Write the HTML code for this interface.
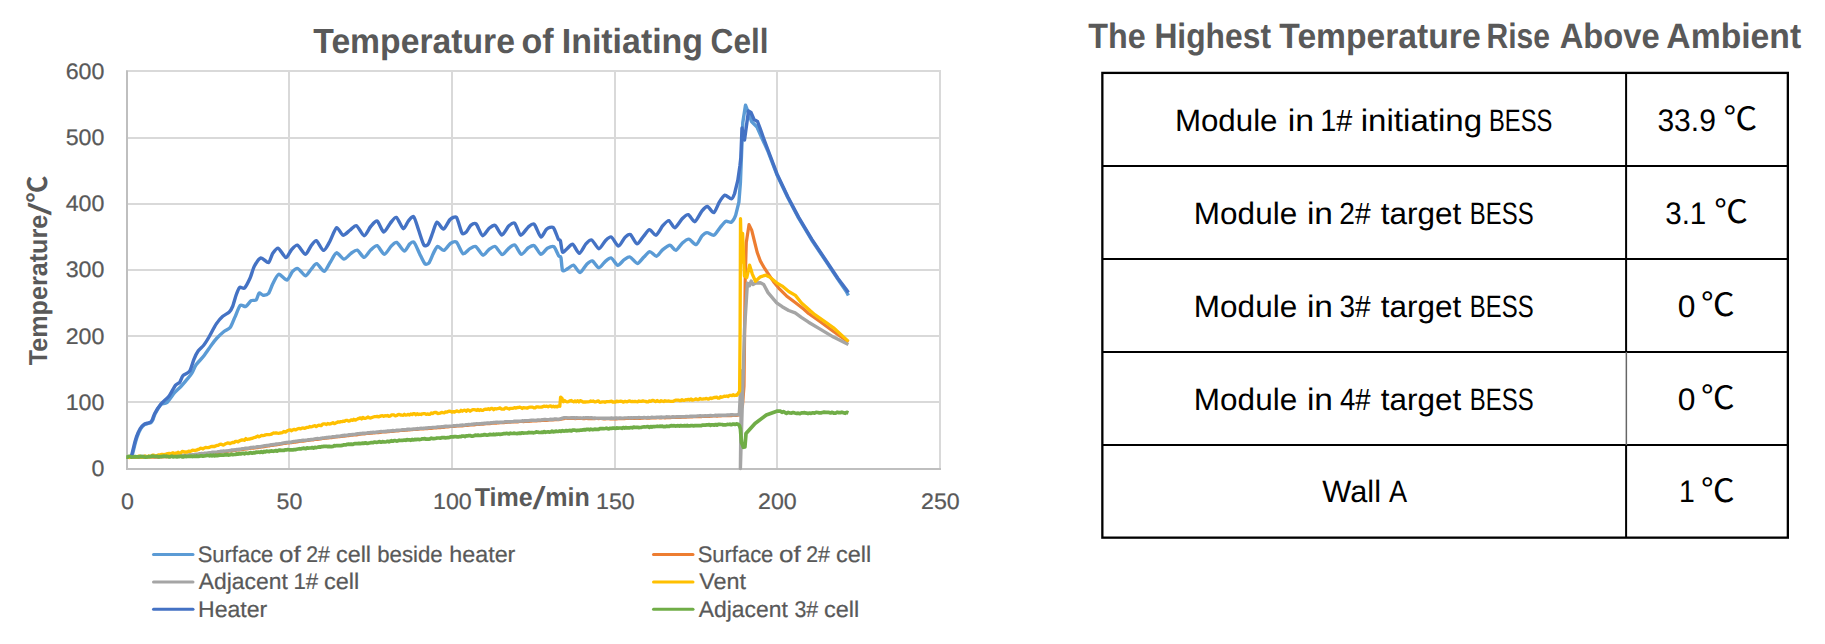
<!DOCTYPE html>
<html lang="en"><head><meta charset="utf-8"><title>Temperature of Initiating Cell</title>
<style>html,body{margin:0;padding:0;background:#fff;}body{width:1825px;height:644px;overflow:hidden;}svg{display:block;}text{font-family:"Liberation Sans","Noto Sans CJK SC",sans-serif;white-space:pre;text-rendering:geometricPrecision;}.c{fill:#595959;}.r{stroke:#595959;stroke-width:.22px;}.b{font-weight:bold;}.k{fill:#000;}</style></head><body>
<svg width="1825" height="644" viewBox="0 0 1825 644">
<rect width="1825" height="644" fill="#fff"/>
<g fill="#d9d9d9">
<rect x="126" y="70" width="815" height="2"/>
<rect x="126" y="137" width="815" height="2"/>
<rect x="126" y="203" width="815" height="2"/>
<rect x="126" y="269" width="815" height="2"/>
<rect x="126" y="335" width="815" height="2"/>
<rect x="126" y="401" width="815" height="2"/>
<rect x="288" y="70" width="2" height="399"/>
<rect x="451" y="70" width="2" height="399"/>
<rect x="614" y="70" width="2" height="399"/>
<rect x="776" y="70" width="2" height="399"/>
<rect x="939" y="70" width="2" height="399"/>
</g>
<g fill="#bfbfbf"><rect x="126" y="70.5" width="2" height="399.5"/><rect x="126" y="468" width="815" height="2"/></g>
<g>
<path d="M131.3,457.0C131.4,456.7 132.1,455.6 132.5,454.2C132.9,452.8 134.1,447.7 134.6,445.6C135.1,443.5 136.3,439.1 137.0,437.1C137.7,435.1 139.9,430.2 140.8,428.7C141.7,427.2 143.7,425.2 144.6,424.6C145.5,424.0 147.2,423.8 148.0,423.5C148.8,423.2 150.4,422.9 151.0,422.5C151.6,422.1 152.4,420.8 152.9,419.8C153.4,418.8 154.0,415.9 155.0,414.0C156.0,412.1 159.9,405.5 161.3,404.2C162.7,402.9 165.1,404.1 166.7,402.8C168.3,401.5 172.6,395.0 174.3,393.0C176.0,391.0 179.3,388.2 180.9,386.5C182.5,384.8 186.1,380.5 187.4,378.9C188.7,377.3 190.7,375.2 191.7,373.5C192.7,371.8 194.7,366.9 196.1,364.8C197.5,362.7 201.9,358.5 203.7,356.1C205.5,353.7 209.7,347.4 211.3,345.2C212.9,343.0 215.5,339.6 217.0,338.0C218.5,336.4 222.4,332.8 224.0,331.5C225.6,330.2 229.1,328.9 230.4,327.2C231.7,325.5 233.6,320.0 234.8,317.4C236.0,314.8 238.9,306.7 240.2,305.4C241.5,304.1 244.4,307.1 245.7,306.5C247.0,305.9 249.9,301.5 251.1,300.7C252.3,299.9 255.1,300.9 256.1,300.0C257.1,299.1 258.3,293.6 259.1,293.0C259.9,292.4 261.9,295.1 263.0,295.2C264.1,295.3 267.3,294.9 268.5,293.5C269.7,292.1 271.6,286.0 272.8,283.7C274.0,281.4 277.0,274.7 278.7,274.3C280.4,273.9 285.4,280.3 287.0,280.0C288.6,279.7 291.1,273.1 292.4,271.7C293.7,270.3 296.2,268.0 297.8,268.5C299.4,269.0 303.8,275.6 305.4,275.7C307.0,275.8 309.9,270.5 311.3,269.1C312.7,267.7 315.1,263.4 316.7,263.7C318.3,264.0 322.7,271.5 324.3,271.3C325.9,271.1 328.9,264.2 330.4,262.0C331.9,259.8 334.9,253.1 336.5,252.8C338.1,252.5 342.1,259.0 343.9,259.1C345.7,259.2 349.5,254.4 351.1,253.3C352.7,252.2 355.7,249.7 357.3,250.2C358.9,250.7 362.5,257.4 364.1,257.4C365.7,257.4 369.1,251.4 370.7,250.0C372.3,248.6 375.6,245.2 377.2,245.7C378.8,246.2 382.6,254.3 384.3,254.3C386.0,254.3 389.8,247.5 391.3,246.1C392.8,244.7 395.1,241.8 396.7,242.4C398.3,243.0 402.7,250.9 404.3,251.1C405.9,251.3 408.6,244.9 409.8,243.9C411.0,242.9 412.9,241.2 414.1,242.4C415.3,243.6 418.3,251.1 419.6,253.7C420.9,256.3 423.8,262.9 425.0,263.9C426.2,264.9 428.3,263.8 429.3,262.4C430.3,261.0 432.7,254.5 433.7,252.6C434.7,250.7 436.4,246.8 437.6,246.5C438.8,246.2 442.4,250.8 443.9,250.4C445.4,250.0 448.9,244.5 450.4,243.5C451.9,242.5 455.0,241.0 456.5,242.2C458.0,243.4 461.4,252.9 463.0,253.7C464.6,254.5 468.1,249.8 469.6,248.9C471.1,248.0 474.1,245.7 475.7,246.5C477.3,247.3 481.4,254.9 483.0,255.2C484.6,255.5 487.6,250.3 489.1,249.3C490.6,248.3 493.6,245.9 495.2,246.5C496.8,247.1 500.6,254.4 502.2,254.6C503.8,254.8 507.2,249.5 508.7,248.3C510.2,247.1 513.3,244.3 514.8,245.0C516.3,245.7 519.7,254.0 521.3,254.3C522.9,254.6 526.7,248.8 528.3,247.8C529.9,246.8 532.8,244.9 534.3,245.7C535.8,246.5 539.3,254.0 540.9,254.3C542.5,254.6 545.8,249.2 547.4,248.3C549.0,247.4 552.5,245.8 553.9,246.7C555.3,247.6 557.9,254.6 558.7,255.9C559.5,257.2 560.4,255.7 560.9,257.4C561.4,259.1 561.8,269.0 562.6,270.4C563.4,271.8 566.1,269.5 567.4,268.9C568.7,268.3 572.0,264.8 573.5,265.2C575.0,265.6 578.4,272.8 580.0,272.6C581.6,272.4 585.5,265.3 587.0,263.9C588.5,262.5 591.0,260.4 592.4,260.9C593.8,261.4 597.3,267.8 598.9,267.8C600.5,267.8 603.9,262.5 605.4,261.3C606.9,260.1 609.8,257.5 611.3,258.0C612.8,258.5 616.2,265.0 617.8,265.2C619.4,265.4 622.8,260.6 624.3,259.6C625.8,258.6 628.4,256.5 630.0,257.0C631.6,257.5 635.7,263.5 637.4,263.5C639.1,263.5 642.4,258.4 643.9,257.0C645.4,255.6 648.3,251.7 649.8,251.6C651.3,251.5 654.8,256.4 656.4,256.2C658.0,256.0 661.2,250.9 662.8,249.6C664.4,248.3 668.4,245.1 670.0,245.2C671.6,245.3 674.4,250.7 675.9,250.4C677.4,250.1 680.8,244.4 682.4,243.0C684.0,241.6 687.3,238.9 688.9,239.1C690.5,239.3 694.5,245.0 696.1,244.6C697.7,244.2 700.7,237.3 702.0,235.9C703.3,234.5 705.6,232.7 707.0,232.6C708.4,232.5 712.3,235.8 713.9,235.2C715.5,234.6 719.0,228.9 720.4,227.2C721.8,225.5 724.6,221.9 725.9,221.3C727.2,220.7 730.1,222.9 731.3,222.2C732.5,221.5 734.8,217.6 735.7,215.2L738.9,202.2L740.4,182.6L741.3,160.0L742.8,122.6L745.5,105.2L747.2,109.6L751.5,121.5L757.0,127.0L761.3,136.7L767.6,150.5L776.8,174.5L787.6,197.3L798.5,218.0L811.5,239.7L826.8,262.6L837.6,278.9L846.3,291.5L848.4,295.5" fill="none" stroke="#5b9bd5" stroke-width="3.4" stroke-linejoin="round"/>
<polyline points="127.6,457.4 128.9,457.5 130.2,457.5 131.5,457.5 132.8,457.4 134.1,457.4 135.4,457.2 136.7,457.3 138.0,457.4 139.3,457.3 140.6,457.4 141.9,457.1 143.2,457.2 144.4,457.1 145.7,457.2 147.0,457.2 148.3,457.0 149.6,457.0 150.9,457.0 152.2,457.2 153.5,457.2 154.8,457.0 156.1,457.1 157.4,456.9 158.7,457.1 160.0,456.9 161.3,456.8 162.6,457.0 163.9,456.7 165.2,456.7 166.5,456.8 167.8,456.7 169.1,456.5 170.4,456.7 171.7,456.5 173.0,456.4 174.3,456.2 175.7,456.4 177.0,456.3 178.3,456.3 179.6,456.2 180.9,456.0 182.2,455.9 183.5,455.8 184.8,455.7 186.1,455.7 187.4,455.7 188.7,455.7 190.0,455.5 191.3,455.5 192.6,455.3 193.9,455.1 195.2,455.1 196.5,454.9 197.8,454.7 199.1,454.6 200.4,454.5 201.7,454.1 203.0,454.3 204.3,453.8 205.6,453.9 206.9,453.8 208.1,453.4 209.4,453.5 210.7,453.2 212.0,453.1 213.3,452.8 214.6,452.6 215.9,452.5 217.2,452.6 218.5,452.2 219.8,452.3 221.1,452.2 222.4,452.0 223.7,451.7 225.0,451.6 226.3,451.4 227.6,451.4 228.9,451.0 230.2,451.0 231.5,450.9 232.8,450.7 234.1,450.3 235.4,450.4 236.7,450.0 238.0,449.9 239.3,449.8 240.6,449.8 241.9,449.4 243.1,449.4 244.4,449.2 245.7,448.9 247.0,448.8 248.3,448.6 249.6,448.4 250.9,448.2 252.2,448.2 253.5,448.2 254.8,447.8 256.1,447.6 257.4,447.7 258.7,447.4 260.0,447.2 261.3,446.9 262.6,446.8 264.0,446.7 265.3,446.4 266.6,446.2 267.9,445.9 269.2,445.9 270.5,445.5 271.9,445.4 273.2,445.3 274.5,444.9 275.8,444.9 277.1,444.7 278.5,444.4 279.8,444.3 281.1,443.9 282.4,443.8 283.7,443.5 285.0,443.5 286.4,443.1 287.7,443.0 289.0,442.9 290.3,442.7 291.6,442.6 292.9,442.3 294.2,442.1 295.5,442.1 296.8,441.8 298.1,441.6 299.4,441.5 300.6,441.2 301.9,441.1 303.2,441.2 304.5,441.0 305.8,440.7 307.1,440.5 308.4,440.3 309.7,440.1 311.0,440.0 312.3,440.0 313.6,439.8 314.9,439.5 316.2,439.5 317.5,439.3 318.8,439.1 320.0,438.9 321.3,438.8 322.6,438.5 323.9,438.5 325.2,438.2 326.5,438.1 327.8,438.0 329.1,437.8 330.4,437.5 331.7,437.6 333.0,437.3 334.3,437.2 335.6,436.9 336.9,436.9 338.2,436.6 339.5,436.6 340.8,436.4 342.1,436.4 343.4,436.2 344.7,436.1 346.0,435.8 347.3,435.7 348.6,435.6 349.9,435.5 351.2,435.2 352.5,435.2 353.8,435.0 355.1,434.8 356.4,434.8 357.7,434.6 359.0,434.3 360.3,434.2 361.6,433.9 362.9,434.0 364.2,433.9 365.5,433.6 366.8,433.5 368.1,433.4 369.4,433.3 370.7,433.1 372.0,433.1 373.3,433.0 374.6,432.9 375.9,432.7 377.2,432.6 378.5,432.6 379.8,432.4 381.1,432.3 382.4,432.0 383.7,431.9 385.0,431.9 386.3,431.9 387.6,431.6 388.9,431.7 390.2,431.5 391.5,431.2 392.8,431.3 394.1,431.1 395.4,430.9 396.7,430.8 398.0,430.8 399.3,430.6 400.6,430.5 401.9,430.4 403.2,430.4 404.4,430.3 405.7,430.2 407.0,430.1 408.3,429.9 409.5,430.0 410.8,429.7 412.1,429.7 413.4,429.5 414.7,429.5 415.9,429.3 417.2,429.4 418.5,429.2 419.8,429.0 421.1,429.0 422.3,428.8 423.6,428.8 424.9,428.7 426.2,428.6 427.4,428.6 428.7,428.5 430.0,428.3 431.3,428.3 432.6,428.1 433.9,427.9 435.2,427.8 436.4,427.8 437.7,427.7 439.0,427.7 440.3,427.6 441.6,427.4 442.9,427.2 444.2,427.3 445.5,426.9 446.7,426.8 448.0,426.8 449.3,426.7 450.6,426.5 451.9,426.5 453.2,426.5 454.5,426.3 455.8,426.2 457.1,426.0 458.4,425.9 459.7,426.0 461.0,425.7 462.3,425.8 463.6,425.7 464.9,425.5 466.2,425.3 467.5,425.4 468.8,425.2 470.1,425.0 471.4,424.9 472.7,425.0 474.0,424.8 475.3,424.6 476.7,424.5 478.0,424.3 479.3,424.4 480.6,424.2 481.9,424.1 483.2,424.1 484.5,424.0 485.8,423.7 487.1,423.7 488.4,423.6 489.7,423.7 491.0,423.5 492.3,423.2 493.6,423.1 494.9,423.0 496.2,423.2 497.5,422.8 498.8,422.8 500.1,422.7 501.4,422.7 502.7,422.6 504.0,422.6 505.3,422.3 506.6,422.4 507.9,422.2 509.2,422.2 510.5,422.1 511.8,422.0 513.1,422.0 514.4,421.9 515.7,421.8 517.0,421.9 518.3,421.8 519.6,421.5 520.9,421.5 522.2,421.5 523.5,421.6 524.8,421.5 526.1,421.3 527.4,421.1 528.7,421.3 530.0,421.1 531.2,421.1 532.5,421.0 533.8,420.9 535.1,420.8 536.4,420.9 537.7,420.6 539.0,420.6 540.3,420.6 541.6,420.4 542.9,420.3 544.2,420.4 545.5,420.1 546.8,420.3 548.1,420.2 549.4,420.0 550.7,419.9 552.0,420.0 553.3,420.0 554.6,419.7 555.9,419.7 557.2,419.7 558.5,419.6 559.8,419.4 561.1,419.1 562.4,418.9 563.7,418.7 565.0,418.2 566.3,418.2 567.6,418.4 568.9,418.4 570.2,418.4 571.5,418.2 572.8,418.4 574.0,418.5 575.3,418.6 576.6,418.5 577.9,418.3 579.2,418.5 580.5,418.4 581.8,418.5 583.1,418.6 584.4,418.6 585.7,418.4 587.0,418.5 588.3,418.7 589.5,418.4 590.8,418.6 592.1,418.6 593.4,418.5 594.7,418.6 596.0,418.5 597.3,418.5 598.6,418.6 599.9,418.5 601.2,418.5 602.5,418.7 603.8,418.8 605.1,418.8 606.3,418.6 607.6,418.7 608.9,418.7 610.2,418.8 611.5,418.8 612.8,418.9 614.1,418.8 615.4,418.6 616.7,418.8 618.0,418.6 619.3,418.7 620.6,418.7 621.9,418.7 623.2,418.6 624.6,418.6 625.9,418.5 627.2,418.5 628.5,418.4 629.8,418.5 631.1,418.4 632.4,418.3 633.7,418.3 635.0,418.3 636.3,418.4 637.6,418.2 638.9,418.3 640.2,418.3 641.5,418.1 642.8,418.2 644.1,418.0 645.5,418.0 646.8,418.1 648.1,417.9 649.4,418.1 650.7,418.0 652.0,417.9 653.3,418.0 654.6,417.7 655.9,417.9 657.2,417.7 658.5,417.7 659.8,417.9 661.1,417.8 662.4,417.6 663.7,417.6 665.0,417.8 666.4,417.7 667.7,417.7 669.0,417.4 670.3,417.6 671.6,417.4 672.9,417.4 674.2,417.4 675.5,417.4 676.8,417.3 678.1,417.3 679.4,417.2 680.7,417.3 682.0,417.2 683.3,417.2 684.6,417.1 685.9,417.2 687.2,417.0 688.5,417.0 689.8,416.9 691.0,416.9 692.3,416.8 693.6,416.7 694.9,416.6 696.2,416.6 697.5,416.5 698.8,416.7 700.1,416.6 701.4,416.6 702.7,416.3 704.0,416.4 705.3,416.5 706.6,416.4 707.9,416.3 709.2,416.3 710.5,416.1 711.8,416.1 713.1,416.0 714.4,416.0 715.7,416.0 717.0,416.1 718.3,415.9 719.6,415.8 720.9,415.8 722.2,415.7 723.4,415.7 724.7,415.7 726.0,415.7 727.3,415.5 728.6,415.7 729.9,415.5 731.2,415.7 732.5,415.5 733.8,415.5 735.1,415.4 736.4,415.5 737.7,415.2 739.3,415.0 742.5,405.0 744.0,386.0 745.2,280.0 746.3,242.6 749.0,224.7 751.7,230.1 754.5,241.5 757.2,252.4 760.4,261.1 764.8,268.7 769.1,275.2 773.5,281.7 778.9,288.3 786.5,295.9 795.2,302.6 803.9,309.2 808.6,313.5 821.0,322.2 833.5,331.5 848.4,342.0" fill="none" stroke="#ed7d31" stroke-width="3.2" stroke-linejoin="round"/>
<polyline points="127.6,456.7 128.9,456.6 130.2,456.7 131.5,456.6 132.8,456.6 134.1,456.7 135.4,456.9 136.7,456.8 138.0,456.8 139.3,456.5 140.6,456.7 141.9,456.5 143.2,456.5 144.4,456.4 145.7,456.5 147.0,456.7 148.3,456.7 149.6,456.7 150.9,456.6 152.2,456.4 153.5,456.4 154.8,456.5 156.1,456.5 157.4,456.6 158.7,456.6 160.0,456.2 161.3,456.4 162.6,456.3 163.9,456.2 165.2,456.0 166.5,456.1 167.8,455.9 169.1,456.1 170.4,456.1 171.7,455.9 173.0,455.7 174.3,455.9 175.7,455.7 177.0,455.8 178.3,455.7 179.6,455.5 180.9,455.4 182.2,455.4 183.5,455.3 184.8,455.1 186.1,455.1 187.4,455.2 188.7,454.9 190.0,454.8 191.3,454.9 192.6,454.6 193.9,454.6 195.2,454.4 196.5,454.2 197.8,454.3 199.1,453.8 200.4,453.8 201.7,453.5 203.0,453.6 204.3,453.3 205.6,453.2 206.9,453.2 208.1,452.9 209.4,452.8 210.7,452.8 212.0,452.3 213.3,452.2 214.6,452.1 215.9,452.1 217.2,451.9 218.5,451.6 219.8,451.5 221.1,451.3 222.4,451.3 223.7,451.0 225.0,451.1 226.3,451.0 227.6,450.9 228.9,450.6 230.2,450.5 231.5,450.0 232.8,449.9 234.1,450.0 235.4,449.8 236.7,449.5 238.0,449.5 239.3,449.3 240.6,449.2 241.9,448.8 243.1,448.6 244.4,448.5 245.7,448.2 247.0,448.2 248.3,448.3 249.6,447.8 250.9,447.5 252.2,447.4 253.5,447.3 254.8,447.4 256.1,447.0 257.4,446.8 258.7,446.6 260.0,446.8 261.3,446.4 262.6,446.1 264.0,445.8 265.3,445.6 266.6,445.5 267.9,445.5 269.2,445.1 270.5,444.8 271.9,444.8 273.2,444.5 274.5,444.6 275.8,444.0 277.1,444.0 278.5,443.9 279.8,443.6 281.1,443.6 282.4,443.2 283.7,442.9 285.0,442.8 286.4,442.4 287.7,442.4 289.0,442.1 290.3,442.2 291.6,442.0 292.9,441.7 294.2,441.4 295.5,441.3 296.8,441.1 298.1,440.9 299.4,440.8 300.6,440.9 301.9,440.4 303.2,440.2 304.5,440.4 305.8,440.1 307.1,440.1 308.4,439.7 309.7,439.8 311.0,439.5 312.3,439.4 313.6,439.2 314.9,438.9 316.2,438.6 317.5,438.5 318.8,438.6 320.0,438.5 321.3,438.3 322.6,437.9 323.9,437.9 325.2,437.8 326.5,437.5 327.8,437.5 329.1,437.2 330.4,437.1 331.7,436.9 333.0,436.6 334.3,436.7 335.6,436.6 336.9,436.1 338.2,436.3 339.5,436.1 340.8,435.9 342.1,435.5 343.4,435.7 344.7,435.2 346.0,435.4 347.3,435.1 348.6,434.8 349.9,434.6 351.2,434.7 352.5,434.5 353.8,434.4 355.1,434.4 356.4,433.9 357.7,433.7 359.0,433.9 360.3,433.4 361.6,433.6 362.9,433.1 364.2,433.3 365.5,433.1 366.8,433.0 368.1,432.8 369.4,432.8 370.7,432.4 372.0,432.5 373.3,432.3 374.6,432.4 375.9,432.2 377.2,432.0 378.5,431.9 379.8,431.6 381.1,431.5 382.4,431.6 383.7,431.4 385.0,431.5 386.3,431.3 387.6,431.0 388.9,430.9 390.2,431.0 391.5,430.8 392.8,430.5 394.1,430.7 395.4,430.6 396.7,430.2 398.0,430.2 399.3,430.1 400.6,430.1 401.9,429.8 403.2,429.7 404.4,429.7 405.7,429.8 407.0,429.3 408.3,429.2 409.5,429.3 410.8,429.4 412.1,429.1 413.4,429.0 414.7,429.0 415.9,428.9 417.2,428.5 418.5,428.8 419.8,428.4 421.1,428.3 422.3,428.4 423.6,428.2 424.9,428.2 426.2,427.9 427.4,428.0 428.7,427.7 430.0,427.6 431.3,427.6 432.6,427.4 433.9,427.4 435.2,427.4 436.4,427.3 437.7,426.9 439.0,426.9 440.3,426.9 441.6,426.7 442.9,426.7 444.2,426.5 445.5,426.3 446.7,426.2 448.0,426.4 449.3,426.1 450.6,426.1 451.9,426.1 453.2,425.8 454.5,425.8 455.8,425.6 457.1,425.4 458.4,425.6 459.7,425.3 461.0,425.3 462.3,425.0 463.6,425.1 464.9,425.0 466.2,424.8 467.5,424.6 468.8,424.4 470.1,424.6 471.4,424.3 472.7,424.3 474.0,424.0 475.3,423.9 476.7,423.8 478.0,424.0 479.3,423.6 480.6,423.8 481.9,423.5 483.2,423.5 484.5,423.3 485.8,423.3 487.1,423.0 488.4,423.0 489.7,423.1 491.0,422.7 492.3,422.8 493.6,422.5 494.9,422.4 496.2,422.2 497.5,422.1 498.8,422.4 500.1,422.2 501.4,422.2 502.7,422.1 504.0,422.1 505.3,421.7 506.6,421.8 507.9,421.7 509.2,421.6 510.5,421.7 511.8,421.6 513.1,421.6 514.4,421.2 515.7,421.3 517.0,421.3 518.3,421.2 519.6,421.1 520.9,421.1 522.2,420.8 523.5,421.0 524.8,420.7 526.1,420.7 527.4,420.8 528.7,420.7 530.0,420.4 531.2,420.3 532.5,420.3 533.8,420.3 535.1,420.4 536.4,420.3 537.7,420.0 539.0,420.0 540.3,420.1 541.6,419.8 542.9,419.8 544.2,419.5 545.5,419.5 546.8,419.6 548.1,419.6 549.4,419.5 550.7,419.3 552.0,419.5 553.3,419.3 554.6,419.0 555.9,418.9 557.2,419.2 558.5,419.2 559.8,419.1 561.1,418.6 562.4,418.2 563.7,417.8 565.0,417.6 566.3,417.6 567.6,417.9 568.9,417.9 570.2,417.9 571.5,417.6 572.8,417.7 574.0,417.7 575.3,418.0 576.6,417.7 577.9,417.9 579.2,417.9 580.5,417.9 581.8,418.1 583.1,417.8 584.4,417.9 585.7,417.8 587.0,417.8 588.3,417.7 589.5,417.9 590.8,417.8 592.1,417.8 593.4,418.2 594.7,417.9 596.0,418.2 597.3,418.1 598.6,418.1 599.9,418.1 601.2,418.2 602.5,418.2 603.8,418.2 605.1,418.1 606.3,418.2 607.6,418.2 608.9,418.2 610.2,418.2 611.5,418.0 612.8,418.3 614.1,418.2 615.4,418.0 616.7,418.0 618.0,418.3 619.3,418.0 620.6,418.0 621.9,418.1 623.2,418.1 624.6,417.9 625.9,417.9 627.2,417.9 628.5,417.7 629.8,418.0 631.1,417.6 632.4,418.0 633.7,417.6 635.0,417.6 636.3,417.8 637.6,417.8 638.9,417.5 640.2,417.6 641.5,417.6 642.8,417.6 644.1,417.4 645.5,417.6 646.8,417.7 648.1,417.5 649.4,417.6 650.7,417.5 652.0,417.3 653.3,417.4 654.6,417.4 655.9,417.3 657.2,417.1 658.5,417.2 659.8,417.3 661.1,417.0 662.4,417.2 663.7,417.2 665.0,417.1 666.4,416.8 667.7,417.0 669.0,416.9 670.3,417.1 671.6,417.0 672.9,416.8 674.2,417.0 675.5,416.9 676.8,416.7 678.1,416.8 679.4,416.8 680.7,416.8 682.0,416.7 683.3,416.6 684.6,416.6 685.9,416.5 687.2,416.4 688.5,416.6 689.8,416.3 691.0,416.1 692.3,416.3 693.6,416.2 694.9,416.2 696.2,416.1 697.5,416.0 698.8,415.9 700.1,415.8 701.4,416.0 702.7,416.0 704.0,415.9 705.3,415.6 706.6,415.9 707.9,415.8 709.2,415.7 710.5,415.4 711.8,415.7 713.1,415.6 714.4,415.5 715.7,415.3 717.0,415.5 718.3,415.2 719.6,415.3 720.9,415.1 722.2,415.2 723.4,415.3 724.7,415.2 726.0,415.2 727.3,415.0 728.6,415.0 729.9,415.0 731.2,414.7 732.5,414.8 733.8,415.0 735.1,414.9 736.4,414.9 737.7,414.6 739.3,414.4 741.5,371.0 740.4,468.5 744.5,330.0 747.4,283.2 749.5,285.6 751.2,281.0 753.0,284.5 755.5,283.0 760.4,282.8 763.7,284.5 768.0,292.6 776.7,302.9 782.2,306.7 788.7,310.5 795.2,312.9 801.7,317.6 808.6,322.2 821.0,329.6 833.5,337.1 848.4,344.5" fill="none" stroke="#a5a5a5" stroke-width="3.4" stroke-linejoin="round"/>
<polyline points="127.6,456.5 128.9,457.5 130.3,457.3 131.6,456.6 133.0,456.9 134.3,456.8 135.6,457.1 137.0,457.3 138.3,456.2 139.6,456.1 141.0,457.3 142.3,456.6 143.7,457.1 145.0,456.0 146.2,456.5 147.5,456.8 148.8,455.9 150.0,456.9 151.2,456.7 152.5,455.2 153.8,455.1 155.0,455.8 156.2,456.2 157.5,455.3 158.8,454.9 160.0,455.1 161.3,454.3 162.6,454.4 163.9,454.6 165.2,454.5 166.5,453.9 167.8,453.7 169.1,453.5 170.4,453.7 171.7,453.2 173.0,452.7 174.3,453.7 175.7,453.1 177.0,453.0 178.3,452.2 179.6,453.2 180.9,452.8 182.2,451.5 183.5,451.7 184.8,452.1 186.1,451.9 187.4,452.0 188.7,451.1 190.0,451.5 191.3,451.0 192.6,450.2 193.9,450.4 195.2,450.5 196.5,450.2 197.8,449.5 199.1,449.3 200.4,448.2 201.7,448.3 203.0,448.9 204.3,448.0 205.6,447.4 206.9,447.7 208.1,447.7 209.4,447.4 210.7,446.7 212.0,446.5 213.3,446.3 214.6,446.5 215.9,445.8 217.2,445.4 218.5,445.3 219.8,444.3 221.1,444.1 222.4,444.8 223.7,445.0 225.0,444.1 226.3,443.5 227.6,442.9 228.9,443.1 230.2,443.6 231.5,442.9 232.8,442.3 234.2,442.5 235.5,441.3 236.8,441.4 238.1,441.8 239.4,440.9 240.7,440.4 242.0,439.9 243.3,440.0 244.6,440.3 245.9,438.6 247.2,439.5 248.5,439.2 249.8,439.0 251.1,438.5 252.5,438.3 253.8,437.6 255.1,437.4 256.4,436.9 257.7,436.0 259.0,436.9 260.3,436.2 261.6,435.4 262.9,435.6 264.2,435.4 265.5,434.9 266.8,434.7 268.1,434.7 269.4,434.6 270.7,434.4 272.0,433.9 273.3,433.0 274.6,433.1 276.0,432.8 277.3,433.2 278.6,433.3 279.9,433.0 281.2,432.8 282.5,432.6 283.8,431.5 285.1,432.1 286.4,431.6 287.7,430.5 289.0,430.2 290.3,429.9 291.6,430.8 292.9,429.8 294.2,429.4 295.5,429.9 296.8,429.3 298.1,428.6 299.4,428.5 300.6,428.9 301.9,428.1 303.2,428.0 304.5,428.4 305.8,427.8 307.1,427.4 308.4,427.4 309.7,426.5 311.0,426.8 312.3,426.6 313.6,426.0 314.9,425.7 316.2,426.6 317.5,425.8 318.8,425.1 320.0,425.5 321.3,425.6 322.6,424.2 323.9,423.9 325.2,423.9 326.5,424.5 327.8,423.5 329.1,424.0 330.4,423.8 331.7,423.4 333.0,422.7 334.3,423.6 335.6,423.1 336.9,422.5 338.2,421.8 339.5,422.2 340.8,421.6 342.1,421.7 343.4,421.1 344.7,421.3 346.0,420.3 347.3,420.4 348.6,421.2 349.9,420.8 351.2,419.8 352.5,420.4 353.8,419.3 355.1,420.1 356.4,419.6 357.7,418.9 359.0,418.4 360.3,417.8 361.6,418.9 362.9,417.4 364.2,418.4 365.5,418.4 366.8,417.7 368.1,417.0 369.4,417.9 370.7,418.0 372.0,417.5 373.3,417.0 374.6,416.7 375.9,416.6 377.2,416.3 378.5,416.9 379.8,416.4 381.1,415.9 382.4,415.7 383.7,416.4 385.0,415.7 386.3,415.9 387.6,415.5 388.9,416.3 390.2,416.2 391.5,414.8 392.8,414.9 394.1,415.0 395.4,415.9 396.7,415.5 398.0,414.7 399.3,414.4 400.6,415.0 401.9,415.2 403.2,415.3 404.4,414.3 405.7,415.1 407.0,414.8 408.3,414.4 409.5,415.1 410.8,414.0 412.1,414.6 413.4,413.6 414.7,413.7 415.9,414.8 417.2,413.7 418.5,414.5 419.8,414.2 421.1,414.5 422.3,413.8 423.6,413.7 424.9,413.6 426.2,414.4 427.4,413.9 428.7,414.4 430.0,414.3 431.3,413.0 432.6,413.5 433.9,412.7 435.2,412.5 436.4,412.4 437.7,413.5 439.0,413.3 440.3,413.2 441.6,412.3 442.9,412.6 444.2,412.8 445.5,412.0 446.7,412.2 448.0,411.6 449.3,411.2 450.6,411.4 451.9,412.2 453.2,411.6 454.5,412.1 455.8,411.3 457.1,410.9 458.4,411.6 459.7,411.6 461.0,410.3 462.3,411.2 463.6,410.3 464.9,410.2 466.2,411.3 467.5,409.9 468.8,410.2 470.1,411.2 471.4,410.3 472.7,409.7 474.0,409.7 475.3,409.8 476.7,410.4 478.0,409.4 479.3,410.5 480.6,409.6 481.9,410.4 483.2,410.3 484.5,409.3 485.8,409.1 487.1,409.4 488.4,408.7 489.7,409.5 491.0,408.5 492.3,408.4 493.6,409.7 494.9,408.6 496.2,409.0 497.5,408.7 498.8,408.4 500.1,407.9 501.4,409.2 502.7,409.2 504.0,409.2 505.3,407.8 506.6,407.9 507.9,408.5 509.2,409.0 510.5,408.3 511.8,408.4 513.1,408.3 514.4,407.7 515.7,408.1 517.0,407.7 518.3,407.5 519.6,407.2 520.9,407.5 522.2,408.5 523.5,407.6 524.8,407.9 526.1,407.8 527.4,408.2 528.7,407.3 530.0,407.2 531.2,407.1 532.5,407.1 533.8,407.8 535.1,407.8 536.4,406.9 537.7,406.9 539.0,407.2 540.3,407.2 541.6,407.1 542.9,406.6 544.2,406.2 545.5,406.5 546.8,406.2 548.1,406.8 549.4,406.1 550.7,406.0 552.0,406.8 553.3,406.2 554.6,406.9 555.9,406.4 557.2,406.9 558.5,405.8 559.8,406.3 560.6,397.1 562.0,398.2 563.3,401.7 564.6,400.5 565.9,401.5 567.2,401.8 568.5,401.6 569.8,400.8 571.1,400.5 572.4,401.2 573.7,401.8 575.0,400.9 576.3,401.8 577.6,400.7 578.9,401.9 580.2,400.6 581.5,401.0 582.8,402.0 584.1,401.8 585.4,402.0 586.7,401.9 588.0,401.8 589.4,401.7 590.7,401.0 592.0,401.4 593.3,401.0 594.6,401.9 595.9,401.8 597.2,401.2 598.5,401.0 599.8,402.3 601.1,402.1 602.4,401.8 603.7,401.8 605.0,402.3 606.3,401.7 607.6,401.6 608.9,401.6 610.2,401.5 611.5,401.1 612.8,402.1 614.1,401.8 615.4,402.0 616.7,401.2 618.0,401.6 619.3,401.3 620.6,401.2 621.9,401.4 623.2,402.2 624.6,401.5 625.9,401.5 627.2,401.8 628.5,401.2 629.8,400.9 631.1,401.6 632.4,401.5 633.7,401.7 635.0,401.4 636.3,401.7 637.6,401.8 638.9,401.0 640.2,401.4 641.5,401.3 642.8,400.9 644.1,401.2 645.5,401.4 646.8,401.9 648.1,401.9 649.4,400.9 650.7,401.4 652.0,400.5 653.3,400.5 654.6,401.1 655.9,401.6 657.2,400.5 658.5,401.4 659.8,401.6 661.1,400.7 662.4,401.2 663.7,401.5 665.0,400.7 666.4,401.2 667.7,401.2 669.0,401.0 670.3,401.3 671.6,401.4 672.9,401.4 674.2,400.8 675.5,400.2 676.8,400.2 678.1,400.1 679.4,400.5 680.7,400.7 681.9,399.6 683.2,400.4 684.5,400.4 685.8,399.7 687.1,399.9 688.4,399.3 689.7,400.0 691.0,398.9 692.2,400.2 693.5,399.8 694.8,399.5 696.1,398.8 697.4,399.7 698.7,399.7 700.0,398.4 701.3,399.2 702.6,399.2 703.8,398.9 705.1,398.8 706.4,398.4 707.7,399.0 709.0,399.0 710.3,398.0 711.6,398.5 712.9,397.9 714.1,397.4 715.4,397.5 716.7,397.1 718.0,398.2 719.3,398.2 720.6,396.7 721.8,397.3 723.1,396.8 724.3,396.2 725.6,396.3 726.8,396.0 728.1,396.6 729.4,395.3 730.6,395.4 731.9,395.6 733.1,394.7 734.4,395.5 735.6,395.2 736.9,395.4 739.6,391.0 740.1,330.0 740.5,218.7 741.6,262.0 742.6,233.4 744.4,276.0 746.8,277.4 749.6,265.2 752.3,274.1 755.5,281.2 760.4,276.8 765.9,275.2 770.2,277.4 776.7,282.8 782.2,286.1 788.7,291.5 795.4,295.4 801.5,303.0 810.0,310.6 814.8,314.7 827.3,323.4 833.5,327.8 839.7,333.4 848.4,341.4" fill="none" stroke="#ffc000" stroke-width="3.3" stroke-linejoin="round"/>
<path d="M130.8,457.0C130.9,456.7 131.5,455.6 131.9,454.2C132.3,452.8 133.5,447.7 134.0,445.6C134.5,443.5 135.7,439.2 136.4,437.1C137.1,435.0 139.3,430.0 140.2,428.5C141.1,427.0 143.1,424.9 144.0,424.3C144.9,423.7 146.7,423.5 147.5,423.2C148.3,422.9 149.9,422.6 150.5,422.2C151.1,421.8 151.9,420.5 152.4,419.5C152.9,418.5 153.6,415.6 154.6,413.7C155.6,411.8 159.4,406.0 161.1,403.9C162.8,401.8 167.2,398.5 168.9,396.3C170.6,394.1 174.1,387.1 175.4,385.4C176.7,383.7 178.9,383.4 179.8,382.2C180.7,381.0 181.8,377.0 183.0,375.7C184.2,374.4 188.3,373.3 189.6,371.3C190.9,369.3 192.9,361.8 193.9,359.3C194.9,356.8 197.1,352.4 198.3,350.7C199.5,349.0 202.4,346.8 203.7,345.2C205.0,343.6 207.5,339.6 209.0,337.0C210.5,334.4 214.6,326.4 216.3,323.9C218.0,321.4 221.2,317.7 222.8,316.3C224.4,314.9 228.1,313.2 229.3,312.0C230.5,310.8 231.8,308.5 232.6,306.5C233.4,304.5 235.1,298.0 235.9,295.7C236.7,293.4 238.6,288.3 239.6,287.4C240.6,286.5 243.4,289.1 244.6,288.0C245.8,286.9 248.8,280.9 250.0,278.3C251.2,275.7 253.0,268.7 254.3,266.3C255.6,263.9 259.2,258.4 260.9,258.0C262.6,257.6 267.1,263.2 268.5,262.6C269.9,262.0 271.6,255.0 272.8,253.3C274.0,251.6 276.7,247.8 278.3,248.3C279.9,248.8 284.3,257.4 285.9,257.6C287.5,257.8 289.9,251.5 291.3,250.0C292.7,248.5 295.7,244.7 297.4,245.2C299.1,245.7 303.8,254.2 305.4,254.3C307.0,254.4 309.6,247.7 310.9,246.1C312.2,244.5 314.8,240.2 316.3,240.7C317.8,241.2 321.9,250.2 323.5,250.4C325.1,250.6 327.7,245.1 329.3,242.4C330.9,239.7 334.9,228.7 336.5,227.8C338.1,226.9 341.4,234.9 343.0,235.2C344.6,235.5 348.4,231.3 350.0,230.2C351.6,229.1 354.8,225.0 356.5,225.7C358.2,226.4 362.4,235.6 364.1,235.7C365.8,235.8 369.1,228.3 370.7,226.5C372.3,224.7 375.6,220.4 377.2,221.1C378.8,221.8 382.1,231.7 383.7,232.0C385.3,232.3 388.7,225.1 390.2,223.3C391.7,221.5 394.7,216.8 396.3,217.4C397.9,218.0 401.9,228.3 403.3,228.7C404.7,229.1 407.1,222.5 408.3,221.1C409.5,219.7 412.5,215.7 413.7,216.7C414.9,217.7 417.3,226.4 418.5,229.8C419.7,233.2 422.7,243.3 423.9,245.0C425.1,246.7 427.3,245.3 428.3,243.9C429.3,242.5 431.6,235.6 432.6,233.0C433.6,230.4 435.7,222.7 437.0,222.2C438.3,221.7 441.9,229.4 443.5,229.1C445.1,228.8 448.4,221.0 450.0,219.6C451.6,218.2 455.1,215.8 456.5,217.4C457.9,219.0 460.8,231.2 462.0,233.0C463.2,234.8 465.3,232.9 466.3,232.0C467.3,231.1 469.5,226.4 470.7,225.4C471.9,224.4 474.7,222.7 476.1,223.9C477.5,225.1 481.0,235.2 482.6,235.7C484.2,236.2 487.6,229.5 489.1,228.3C490.6,227.1 493.7,224.6 495.2,225.4C496.7,226.2 500.3,234.9 501.9,235.0C503.5,235.1 507.2,227.5 508.7,226.1C510.2,224.7 513.4,222.2 514.8,223.3C516.2,224.4 519.1,234.8 520.7,235.2C522.3,235.6 526.7,228.3 528.3,227.0C529.9,225.7 532.8,223.1 534.3,224.3C535.8,225.5 539.4,236.4 540.9,237.0C542.4,237.6 545.2,230.2 546.7,229.1C548.2,228.0 551.9,226.4 553.3,227.6C554.7,228.8 557.4,237.5 558.3,239.1C559.2,240.7 559.9,239.1 560.4,240.7C560.9,242.3 561.8,251.3 562.6,252.2C563.4,253.1 566.2,249.2 567.4,248.3C568.6,247.4 571.4,243.7 572.8,244.3C574.2,244.9 577.7,253.3 579.3,253.3C580.9,253.3 584.4,245.5 585.9,243.9C587.4,242.3 590.1,239.4 591.7,240.0C593.3,240.6 597.3,248.6 598.9,248.7C600.5,248.8 603.9,242.1 605.4,240.7C606.9,239.3 609.7,236.4 611.3,237.0C612.9,237.6 616.9,246.1 618.5,246.1C620.1,246.1 623.6,238.8 625.0,237.4C626.4,236.0 629.0,233.8 630.4,234.6C631.8,235.4 635.4,243.7 637.0,243.9C638.6,244.1 642.0,238.0 643.5,236.3C645.0,234.6 648.0,229.7 649.5,229.6C651.0,229.5 654.4,235.7 656.0,235.2C657.6,234.7 661.3,227.4 662.8,225.7C664.3,224.0 667.5,220.4 668.9,220.7C670.3,221.0 673.2,228.1 674.8,227.8C676.4,227.5 680.8,220.1 682.4,218.5C684.0,216.9 686.8,214.2 688.3,214.6C689.8,215.0 693.2,222.1 694.8,221.7C696.4,221.3 700.5,212.7 702.0,210.9C703.5,209.1 706.0,206.3 707.4,206.5C708.8,206.7 712.5,213.1 713.9,212.6C715.3,212.1 718.0,204.3 719.3,202.2C720.6,200.1 723.4,195.6 724.8,195.2C726.2,194.8 730.1,199.1 731.3,198.9C732.5,198.7 733.8,195.7 734.6,193.5L737.8,180.4L740.0,165.2L740.8,158.0L742.0,128.0L744.5,140.0L748.5,111.0L751.0,112.5L754.0,119.5L757.5,121.5L760.0,128.0L763.5,138.0L768.0,150.0L777.0,173.9L787.8,196.7L798.7,217.4L811.7,239.1L827.0,262.0L837.8,278.3L846.5,289.8L848.4,292.4" fill="none" stroke="#4472c4" stroke-width="3.4" stroke-linejoin="round"/>
<polyline points="126.2,457.2 127.5,457.2 128.8,456.4 130.1,456.4 131.4,457.1 132.7,457.0 134.0,456.9 135.3,456.6 136.6,456.8 137.9,456.8 139.2,456.8 140.5,456.4 141.8,456.6 143.1,456.6 144.4,456.9 145.7,457.1 147.0,457.0 148.3,456.7 149.6,456.6 150.9,456.4 152.2,456.2 153.5,456.2 154.8,456.5 156.1,456.4 157.4,456.4 158.8,456.9 160.1,456.6 161.4,456.6 162.7,456.3 164.0,456.1 165.3,456.3 166.6,456.2 167.9,456.5 169.2,456.9 170.5,456.6 171.8,456.2 173.1,456.8 174.4,456.7 175.7,456.6 177.0,456.8 178.3,456.6 179.6,456.6 180.9,456.2 182.2,456.8 183.5,456.8 184.8,456.0 186.1,456.6 187.4,456.5 188.7,456.3 190.0,456.3 191.3,456.2 192.6,456.6 193.9,456.2 195.2,456.4 196.5,455.9 197.8,456.4 199.1,456.3 200.4,455.9 201.7,455.9 203.0,456.2 204.3,456.0 205.6,455.7 206.9,455.4 208.1,455.5 209.4,455.8 210.7,455.2 212.0,455.8 213.3,455.2 214.6,455.8 215.9,455.2 217.2,455.7 218.5,455.4 219.8,455.2 221.1,455.2 222.4,455.2 223.7,455.1 225.0,454.8 226.3,454.6 227.6,454.8 228.9,455.1 230.2,454.7 231.5,454.1 232.8,454.7 234.1,454.5 235.4,454.5 236.7,453.8 238.0,454.2 239.3,453.5 240.6,453.9 241.9,453.4 243.1,453.3 244.4,453.8 245.7,453.0 247.0,453.3 248.3,453.5 249.6,452.8 250.9,452.7 252.2,453.2 253.5,452.6 254.8,452.8 256.1,452.1 257.4,452.3 258.7,452.0 260.0,452.4 261.3,451.7 262.6,452.4 264.0,451.4 265.3,452.0 266.6,451.2 267.9,451.3 269.2,451.7 270.5,451.0 271.9,450.9 273.2,451.3 274.5,450.9 275.8,450.5 277.1,451.2 278.5,450.4 279.8,450.1 281.1,450.3 282.4,450.4 283.7,450.5 285.0,449.8 286.4,449.9 287.7,449.5 289.0,449.8 290.3,449.9 291.6,449.8 292.9,449.8 294.2,449.6 295.5,449.6 296.8,449.3 298.1,449.0 299.4,448.7 300.6,449.0 301.9,448.5 303.2,448.2 304.5,448.4 305.8,448.7 307.1,447.9 308.4,448.2 309.7,448.0 311.0,448.0 312.3,447.5 313.6,448.1 314.9,447.4 316.2,447.6 317.5,447.3 318.8,446.9 320.0,447.2 321.3,446.7 322.6,446.6 323.9,446.4 325.2,446.4 326.5,446.3 327.8,446.6 329.1,446.4 330.4,446.7 331.7,446.6 333.0,446.5 334.3,445.7 335.6,445.8 336.9,445.5 338.2,445.7 339.5,445.6 340.8,445.6 342.1,445.4 343.4,444.9 344.7,444.9 346.0,444.9 347.3,444.3 348.6,444.2 349.9,444.4 351.2,444.1 352.5,444.5 353.8,443.9 355.1,443.7 356.4,443.6 357.7,443.6 359.0,443.4 360.3,443.6 361.6,443.4 362.9,443.2 364.2,443.3 365.5,442.8 366.8,443.4 368.1,443.3 369.4,443.0 370.7,442.7 372.0,442.6 373.3,442.6 374.6,442.0 375.9,442.3 377.2,442.3 378.5,441.9 379.8,441.7 381.1,442.2 382.4,441.7 383.7,441.8 385.0,442.0 386.3,441.7 387.6,441.3 388.9,441.8 390.2,441.2 391.5,440.7 392.8,441.2 394.1,440.6 395.4,440.7 396.7,441.1 398.0,440.8 399.3,440.2 400.6,440.5 401.9,440.3 403.2,440.3 404.4,440.0 405.7,440.3 407.0,439.7 408.3,439.8 409.5,439.8 410.8,440.3 412.1,439.4 413.4,439.9 414.7,439.4 415.9,439.6 417.2,439.4 418.5,439.4 419.8,439.6 421.1,439.2 422.3,438.8 423.6,438.8 424.9,438.6 426.2,439.2 427.4,439.0 428.7,439.2 430.0,438.9 431.3,438.2 432.6,438.6 433.9,438.6 435.2,438.5 436.4,438.2 437.7,438.0 439.0,438.0 440.3,438.2 441.6,437.6 442.9,437.7 444.2,437.6 445.5,437.9 446.7,437.7 448.0,437.7 449.3,437.5 450.6,436.9 451.9,436.8 453.2,436.9 454.5,436.6 455.8,436.7 457.1,436.8 458.4,437.0 459.7,436.6 461.0,436.7 462.3,436.0 463.6,436.1 464.9,436.6 466.2,435.8 467.5,436.0 468.8,435.6 470.1,435.5 471.4,436.1 472.7,436.1 474.0,435.8 475.3,435.2 476.7,435.3 478.0,435.1 479.3,435.5 480.6,435.4 481.9,435.1 483.2,435.1 484.5,434.6 485.8,434.9 487.1,435.2 488.4,435.0 489.7,434.3 491.0,434.6 492.3,434.7 493.6,434.2 494.9,434.7 496.2,434.2 497.5,434.3 498.8,434.0 500.1,434.4 501.4,434.2 502.7,433.9 504.0,433.5 505.3,433.7 506.6,433.3 507.9,433.7 509.2,433.9 510.5,433.2 511.8,433.5 513.1,433.4 514.4,433.2 515.7,433.5 517.0,433.6 518.3,433.3 519.6,433.1 520.9,433.4 522.2,432.8 523.5,433.1 524.8,433.0 526.1,433.0 527.4,433.0 528.7,432.4 530.0,432.7 531.2,432.5 532.5,432.6 533.8,432.8 535.1,432.5 536.4,431.9 537.7,432.2 539.0,432.4 540.3,432.5 541.6,432.2 542.9,432.3 544.2,431.5 545.5,432.3 546.8,432.0 548.1,431.8 549.4,432.1 550.7,432.0 552.0,431.2 553.3,431.8 554.6,431.7 555.9,431.1 557.2,431.5 558.5,431.3 559.8,430.9 561.1,431.4 562.4,430.7 563.7,431.1 565.0,430.9 566.3,430.6 567.6,430.8 568.8,430.7 570.1,430.4 571.4,431.0 572.7,430.1 574.0,430.0 575.3,430.3 576.6,430.6 577.9,430.3 579.2,430.4 580.5,430.0 581.8,430.1 583.1,429.8 584.4,429.6 585.7,429.8 587.0,429.3 588.2,429.3 589.5,429.8 590.8,429.2 592.1,429.6 593.4,429.6 594.7,429.2 596.0,429.4 597.3,429.4 598.6,429.4 599.9,428.7 601.2,428.6 602.5,428.7 603.8,428.7 605.0,428.5 606.3,428.2 607.6,428.6 608.9,428.9 610.2,428.3 611.5,428.4 612.8,428.2 614.1,428.1 615.4,428.5 616.7,427.9 618.0,428.2 619.3,428.0 620.6,428.0 621.9,428.3 623.2,427.5 624.6,428.1 625.9,427.6 627.2,427.8 628.5,427.9 629.8,427.8 631.1,427.5 632.4,427.8 633.7,427.1 635.0,427.5 636.3,427.3 637.6,427.3 638.9,427.6 640.2,427.5 641.5,427.3 642.8,427.0 644.1,426.8 645.5,427.0 646.8,426.7 648.1,426.7 649.4,427.3 650.7,426.5 652.0,427.1 653.3,426.6 654.6,426.6 655.9,426.5 657.2,426.2 658.5,426.5 659.8,426.2 661.1,426.4 662.4,426.2 663.7,426.7 665.0,426.7 666.4,426.2 667.7,426.3 669.0,426.5 670.3,425.9 671.6,425.7 672.9,425.8 674.2,425.7 675.5,426.1 676.8,425.8 678.1,425.7 679.4,426.1 680.7,425.5 682.0,426.0 683.3,425.8 684.6,425.6 685.9,425.9 687.2,425.4 688.5,425.9 689.8,425.9 691.0,425.5 692.3,425.6 693.6,425.8 694.9,425.6 696.2,425.6 697.5,425.6 698.8,425.7 700.1,425.5 701.4,425.6 702.7,425.0 704.0,425.2 705.3,425.2 706.6,424.9 707.9,424.9 709.2,424.7 710.5,425.4 711.8,424.8 713.1,424.9 714.4,425.2 715.7,424.5 717.0,425.2 718.3,424.4 719.6,424.3 720.9,424.5 722.2,424.5 723.4,425.0 724.7,424.9 726.0,424.8 727.3,424.4 728.6,424.5 729.9,424.2 731.2,424.7 732.5,424.2 733.8,424.1 735.1,424.4 736.4,423.9 737.7,424.0 739.5,425.6 740.4,429.0 741.5,442.5 743.4,447.3 744.9,447.0 746.0,433.5 755.0,423.4 766.3,415.1 777.5,411.0 779.0,411.1 780.5,411.2 782.0,412.3 783.5,411.6 785.0,412.5 786.5,413.3 788.2,412.4 789.9,413.0 791.6,413.1 793.2,412.5 794.9,413.0 796.6,413.4 798.3,413.2 800.0,413.6 801.6,412.8 803.2,412.9 804.8,412.7 806.4,413.1 808.0,413.6 809.6,413.1 811.2,413.3 812.9,412.8 814.5,413.1 816.1,412.3 817.7,412.5 819.3,412.9 820.9,412.9 822.5,412.5 824.1,412.1 825.7,412.3 827.4,412.3 829.0,412.4 830.6,413.0 832.2,412.3 833.8,413.2 835.5,413.2 837.1,412.2 838.7,412.6 840.3,412.7 841.9,412.2 843.5,412.7 845.2,413.3 846.8,412.3 848.4,412.9" fill="none" stroke="#70ad47" stroke-width="3.7" stroke-linejoin="round"/>
</g>
<text y="53.0" font-size="34.9" class="c b"><tspan x="313.30" textLength="201.65" lengthAdjust="spacingAndGlyphs">Temperature</tspan> <tspan x="521.60" textLength="32.10" lengthAdjust="spacingAndGlyphs">of</tspan> <tspan x="561.75" textLength="141.30" lengthAdjust="spacingAndGlyphs">Initiating</tspan> <tspan x="710.60" textLength="57.95" lengthAdjust="spacingAndGlyphs">Cell</tspan></text>
<text x="104.4" y="78.8" font-size="22.4" class="c r" text-anchor="end" textLength="38.7" lengthAdjust="spacingAndGlyphs">600</text>
<text x="104.4" y="145.0" font-size="22.4" class="c r" text-anchor="end" textLength="38.7" lengthAdjust="spacingAndGlyphs">500</text>
<text x="104.4" y="211.10000000000002" font-size="22.4" class="c r" text-anchor="end" textLength="38.7" lengthAdjust="spacingAndGlyphs">400</text>
<text x="104.4" y="277.3" font-size="22.4" class="c r" text-anchor="end" textLength="38.7" lengthAdjust="spacingAndGlyphs">300</text>
<text x="104.4" y="343.5" font-size="22.4" class="c r" text-anchor="end" textLength="38.7" lengthAdjust="spacingAndGlyphs">200</text>
<text x="104.4" y="409.6" font-size="22.4" class="c r" text-anchor="end" textLength="38.7" lengthAdjust="spacingAndGlyphs">100</text>
<text x="104.4" y="475.8" font-size="22.4" class="c r" text-anchor="end" textLength="12.9" lengthAdjust="spacingAndGlyphs">0</text>
<text x="127.4" y="509.1" font-size="22.4" class="c r" text-anchor="middle" textLength="12.9" lengthAdjust="spacingAndGlyphs">0</text>
<text x="289.4" y="509.1" font-size="22.4" class="c r" text-anchor="middle" textLength="25.8" lengthAdjust="spacingAndGlyphs">50</text>
<text x="452.4" y="509.1" font-size="22.4" class="c r" text-anchor="middle" textLength="38.7" lengthAdjust="spacingAndGlyphs">100</text>
<text x="615.4" y="509.1" font-size="22.4" class="c r" text-anchor="middle" textLength="38.7" lengthAdjust="spacingAndGlyphs">150</text>
<text x="777.4" y="509.1" font-size="22.4" class="c r" text-anchor="middle" textLength="38.7" lengthAdjust="spacingAndGlyphs">200</text>
<text x="940.4" y="509.1" font-size="22.4" class="c r" text-anchor="middle" textLength="38.7" lengthAdjust="spacingAndGlyphs">250</text>
<text y="505.8" font-size="25.9" class="c b"><tspan x="474.75" textLength="58" lengthAdjust="spacingAndGlyphs">Time</tspan><tspan x="532.4" dy="3.3" font-size="31.8" font-weight="normal" textLength="13" lengthAdjust="spacingAndGlyphs">/</tspan><tspan x="545.3" dy="-3.3" textLength="44.5" lengthAdjust="spacingAndGlyphs">min</tspan></text>
<text transform="translate(47.3,365.3) rotate(-90)" font-size="25.9" class="c b"><tspan x="0" textLength="150.5" lengthAdjust="spacingAndGlyphs">Temperature</tspan><tspan x="149.9" dy="3.3" font-size="31.8" font-weight="normal" textLength="13" lengthAdjust="spacingAndGlyphs">/</tspan><tspan x="162.7" dy="-3.3" font-size="26.75">℃</tspan></text>
<line x1="153.5" y1="554.5" x2="193" y2="554.5" stroke="#5b9bd5" stroke-width="3" stroke-linecap="round"/>
<text y="561.6" font-size="22.6" class="c r"><tspan x="197.65" textLength="75.70" lengthAdjust="spacingAndGlyphs">Surface</tspan> <tspan x="279.00" textLength="21.70" lengthAdjust="spacingAndGlyphs">of</tspan> <tspan x="306.15" textLength="23.65" lengthAdjust="spacingAndGlyphs">2#</tspan> <tspan x="336.00" textLength="35.00" lengthAdjust="spacingAndGlyphs">cell</tspan> <tspan x="377.25" textLength="65.45" lengthAdjust="spacingAndGlyphs">beside</tspan> <tspan x="449.35" textLength="66.05" lengthAdjust="spacingAndGlyphs">heater</tspan></text>
<line x1="153.5" y1="581.9" x2="193" y2="581.9" stroke="#a5a5a5" stroke-width="3" stroke-linecap="round"/>
<text y="588.9" font-size="22.6" class="c r"><tspan x="198.80" textLength="89.00" lengthAdjust="spacingAndGlyphs">Adjacent</tspan> <tspan x="293.40" textLength="24.75" lengthAdjust="spacingAndGlyphs">1#</tspan> <tspan x="324.10" textLength="35.20" lengthAdjust="spacingAndGlyphs">cell</tspan></text>
<line x1="153.5" y1="609.3" x2="193" y2="609.3" stroke="#4472c4" stroke-width="3" stroke-linecap="round"/>
<text y="616.6" font-size="22.6" class="c r"><tspan x="198.00" textLength="69.25" lengthAdjust="spacingAndGlyphs">Heater</tspan></text>
<line x1="653.5" y1="554.5" x2="693" y2="554.5" stroke="#ed7d31" stroke-width="3" stroke-linecap="round"/>
<text y="561.6" font-size="22.6" class="c r"><tspan x="697.65" textLength="75.70" lengthAdjust="spacingAndGlyphs">Surface</tspan> <tspan x="779.00" textLength="21.70" lengthAdjust="spacingAndGlyphs">of</tspan> <tspan x="806.15" textLength="23.65" lengthAdjust="spacingAndGlyphs">2#</tspan> <tspan x="836.00" textLength="35.15" lengthAdjust="spacingAndGlyphs">cell</tspan></text>
<line x1="653.5" y1="581.9" x2="693" y2="581.9" stroke="#ffc000" stroke-width="3" stroke-linecap="round"/>
<text y="588.9" font-size="22.6" class="c r"><tspan x="699.30" textLength="46.80" lengthAdjust="spacingAndGlyphs">Vent</tspan></text>
<line x1="653.5" y1="609.3" x2="693" y2="609.3" stroke="#70ad47" stroke-width="3" stroke-linecap="round"/>
<text y="616.6" font-size="22.6" class="c r"><tspan x="698.80" textLength="89.00" lengthAdjust="spacingAndGlyphs">Adjacent</tspan> <tspan x="794.40" textLength="23.75" lengthAdjust="spacingAndGlyphs">3#</tspan> <tspan x="824.10" textLength="35.20" lengthAdjust="spacingAndGlyphs">cell</tspan></text>
<text y="48.2" font-size="35.1" class="c b"><tspan x="1088.30" textLength="57.45" lengthAdjust="spacingAndGlyphs">The</tspan> <tspan x="1154.40" textLength="116.60" lengthAdjust="spacingAndGlyphs">Highest</tspan> <tspan x="1279.35" textLength="201.25" lengthAdjust="spacingAndGlyphs">Temperature</tspan> <tspan x="1486.55" textLength="63.45" lengthAdjust="spacingAndGlyphs">Rise</tspan> <tspan x="1559.65" textLength="99.95" lengthAdjust="spacingAndGlyphs">Above</tspan> <tspan x="1666.35" textLength="134.80" lengthAdjust="spacingAndGlyphs">Ambient</tspan></text>
<rect x="1102.35" y="72.9" width="685.5" height="464.75" fill="none" stroke="#000" stroke-width="2.3"/>
<g fill="#000">
<rect x="1102" y="165" width="686" height="2"/>
<rect x="1102" y="258" width="686" height="2"/>
<rect x="1102" y="351" width="686" height="2"/>
<rect x="1102" y="444" width="686" height="2"/>
<rect x="1625.1" y="73" width="2" height="279"/><rect x="1625.1" y="445" width="2" height="93"/>
<rect x="1625.6" y="352" width="1.5" height="93" fill="#666"/>
</g>
<text y="130.7" font-size="30.9" class="k"><tspan x="1174.90" textLength="102.65" lengthAdjust="spacingAndGlyphs">Module</tspan> <tspan x="1287.75" textLength="26.35" lengthAdjust="spacingAndGlyphs">in</tspan> <tspan x="1320.20" textLength="32.10" lengthAdjust="spacingAndGlyphs">1#</tspan> <tspan x="1360.75" textLength="121.35" lengthAdjust="spacingAndGlyphs">initiating</tspan> <tspan x="1489.00" textLength="63.30" lengthAdjust="spacingAndGlyphs">BESS</tspan></text>
<text y="130.7" font-size="30.9" class="k"><tspan x="1657.4" textLength="58.5" lengthAdjust="spacingAndGlyphs" font-size="31.2">33.9</tspan><tspan font-size="1"> </tspan><tspan x="1723.5" dy="-0.4" font-size="32.4" textLength="33.7" lengthAdjust="spacingAndGlyphs">℃</tspan></text>
<text y="223.7" font-size="30.9" class="k"><tspan x="1193.85" textLength="103.35" lengthAdjust="spacingAndGlyphs">Module</tspan> <tspan x="1306.90" textLength="26.05" lengthAdjust="spacingAndGlyphs">in</tspan> <tspan x="1339.30" textLength="31.35" lengthAdjust="spacingAndGlyphs">2#</tspan> <tspan x="1380.85" textLength="80.40" lengthAdjust="spacingAndGlyphs">target</tspan> <tspan x="1469.85" textLength="63.75" lengthAdjust="spacingAndGlyphs">BESS</tspan></text>
<text y="223.7" font-size="30.9" class="k"><tspan x="1665.2" textLength="41.1" lengthAdjust="spacingAndGlyphs" font-size="31.2">3.1</tspan><tspan font-size="1"> </tspan><tspan x="1714.2" dy="-0.4" font-size="32.4" textLength="33.7" lengthAdjust="spacingAndGlyphs">℃</tspan></text>
<text y="316.6" font-size="30.9" class="k"><tspan x="1193.85" textLength="103.35" lengthAdjust="spacingAndGlyphs">Module</tspan> <tspan x="1306.90" textLength="26.05" lengthAdjust="spacingAndGlyphs">in</tspan> <tspan x="1339.55" textLength="31.10" lengthAdjust="spacingAndGlyphs">3#</tspan> <tspan x="1380.85" textLength="80.40" lengthAdjust="spacingAndGlyphs">target</tspan> <tspan x="1469.85" textLength="63.75" lengthAdjust="spacingAndGlyphs">BESS</tspan></text>
<text y="316.6" font-size="30.9" class="k"><tspan x="1677.8" textLength="17.7" lengthAdjust="spacingAndGlyphs" font-size="31.2">0</tspan><tspan font-size="1"> </tspan><tspan x="1701.1" dy="-0.4" font-size="32.4" textLength="33.7" lengthAdjust="spacingAndGlyphs">℃</tspan></text>
<text y="409.5" font-size="30.9" class="k"><tspan x="1193.85" textLength="103.35" lengthAdjust="spacingAndGlyphs">Module</tspan> <tspan x="1306.90" textLength="26.05" lengthAdjust="spacingAndGlyphs">in</tspan> <tspan x="1340.05" textLength="30.60" lengthAdjust="spacingAndGlyphs">4#</tspan> <tspan x="1380.85" textLength="80.40" lengthAdjust="spacingAndGlyphs">target</tspan> <tspan x="1469.85" textLength="63.75" lengthAdjust="spacingAndGlyphs">BESS</tspan></text>
<text y="409.5" font-size="30.9" class="k"><tspan x="1677.8" textLength="17.7" lengthAdjust="spacingAndGlyphs" font-size="31.2">0</tspan><tspan font-size="1"> </tspan><tspan x="1701.1" dy="-0.4" font-size="32.4" textLength="33.7" lengthAdjust="spacingAndGlyphs">℃</tspan></text>
<text y="502.4" font-size="30.9" class="k"><tspan x="1322.35" textLength="58.65" lengthAdjust="spacingAndGlyphs">Wall</tspan> <tspan x="1389.00" textLength="18.10" lengthAdjust="spacingAndGlyphs">A</tspan></text>
<text y="502.4" font-size="30.9" class="k"><tspan x="1678.9" textLength="15.8" lengthAdjust="spacingAndGlyphs" font-size="31.2">1</tspan><tspan font-size="1"> </tspan><tspan x="1701.1" dy="-0.4" font-size="32.4" textLength="33.7" lengthAdjust="spacingAndGlyphs">℃</tspan></text>
</svg></body></html>
